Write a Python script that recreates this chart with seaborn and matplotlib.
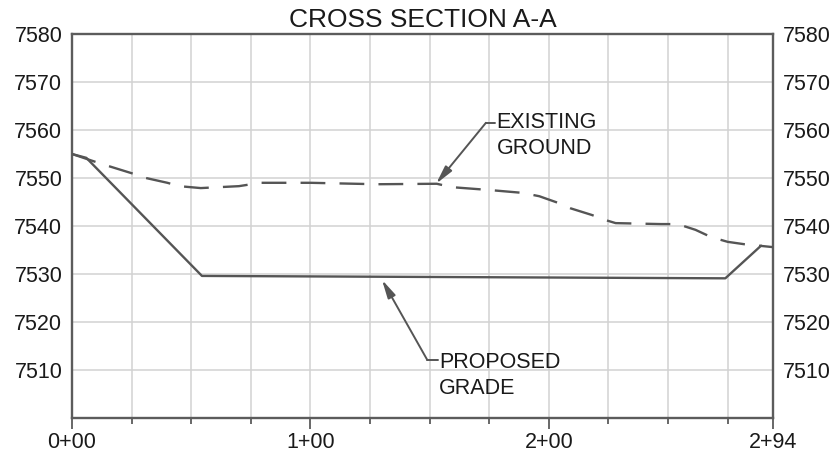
import numpy as np
import pandas as pd
import matplotlib
matplotlib.use("Agg")
import matplotlib.pyplot as plt
import seaborn as sns

# ---- data ----
existing_sta = [0, 12, 25, 31, 40, 45, 54, 70, 79, 100, 128, 153, 159, 175, 189,
                196, 204, 209, 218, 224, 228, 247, 254, 261.5, 268, 275, 282, 294]
existing_elev = [7555, 7553, 7551, 7550, 7549, 7548.3, 7547.9, 7548.3, 7549, 7549,
                 7548.7, 7548.8, 7548.1, 7547.5, 7546.9, 7546.2, 7544.8, 7543.7,
                 7542.3, 7541.2, 7540.6, 7540.4, 7540.4, 7539.2, 7537.7, 7536.7,
                 7536.2, 7535.6]
proposed_sta = [0, 6, 54.5, 274, 289]
proposed_elev = [7555, 7554.2, 7529.6, 7529.1, 7535.9]

station_ticks = [0, 100, 200, 294]
station_labels = ["0+00", "1+00", "2+00", "2+94"]
minor_station_ticks = [25, 50, 75, 125, 150, 175, 225, 250, 275]
elev_ticks = [7510, 7520, 7530, 7540, 7550, 7560, 7570, 7580]
title = "CROSS SECTION A-A"
label_existing = "EXISTING\nGROUND"
label_proposed = "PROPOSED\nGRADE"

df = pd.concat([
    pd.DataFrame({"station": existing_sta, "elev": existing_elev, "surface": "EXISTING GROUND"}),
    pd.DataFrame({"station": proposed_sta, "elev": proposed_elev, "surface": "PROPOSED GRADE"}),
], ignore_index=True)

# ---- style ----
sns.set_style("white")
plt.rcParams["font.family"] = ["Liberation Sans", "DejaVu Sans"]
line_col = "#555555"
grid_col = "#d2d2d2"
spine_col = "#5c5c5c"
text_col = "#1a1a1a"

fig = plt.figure(figsize=(8.35, 4.55), dpi=100)
ax = fig.add_axes([72 / 835, 1 - 418 / 455, (773 - 72) / 835, (418 - 34) / 455])

sns.lineplot(data=df, x="station", y="elev", hue="surface", style="surface",
             palette={"EXISTING GROUND": line_col, "PROPOSED GRADE": line_col},
             dashes={"EXISTING GROUND": (10.5, 6), "PROPOSED GRADE": ""},
             linewidth=1.7, sort=False, estimator=None, legend=False, ax=ax, zorder=3)

ax.set_xlim(0, 294)
ax.set_ylim(7500, 7580)

ax.set_xticks(station_ticks)
ax.set_xticklabels(station_labels)
ax.set_xticks(minor_station_ticks, minor=True)
ax.set_yticks(elev_ticks)
ax.set_yticklabels([str(v) for v in elev_ticks])

ax.grid(True, which="both", axis="x", color=grid_col, linewidth=1.1, zorder=0)
ax.grid(True, which="major", axis="y", color=grid_col, linewidth=1.1, zorder=0)

ax.tick_params(axis="x", which="major", length=8, width=1.3, color=spine_col,
               labelsize=15.5, labelcolor=text_col, pad=2, direction="out", bottom=True)
ax.tick_params(axis="x", which="minor", length=4, width=1.3, color=spine_col,
               direction="out", bottom=True)
ax.tick_params(axis="y", which="both", length=0, labelsize=15.5, labelcolor=text_col,
               pad=7, left=True, right=True, labelleft=True, labelright=True)

for s in ax.spines.values():
    s.set_visible(True)
    s.set_color(spine_col)
    s.set_linewidth(1.7)

ax.set_xlabel("")
ax.set_ylabel("")
ax.set_title(title, fontsize=19, color=text_col, pad=5)

# ---- annotations ----
arrow = dict(arrowstyle="-|>,head_length=1.1,head_width=0.25", color=line_col,
             lw=1.4, shrinkA=0, shrinkB=0, mutation_scale=10)
ax.annotate("", xy=(152.7, 7548.8), xytext=(173.6, 7561.5), arrowprops=arrow, zorder=4)
ax.plot([173.6, 177.5], [7561.5, 7561.5], color=line_col, lw=1.4, zorder=4)
ax.text(178, 7558.9, label_existing, fontsize=15.5, color=text_col,
        ha="left", va="center", linespacing=1.3, zorder=5)

ax.annotate("", xy=(130, 7528.8), xytext=(149, 7512.1), arrowprops=arrow, zorder=4)
ax.plot([149, 153.5], [7512.1, 7512.1], color=line_col, lw=1.4, zorder=4)
ax.text(154, 7508.9, label_proposed, fontsize=15.5, color=text_col,
        ha="left", va="center", linespacing=1.3, zorder=5)

fig.savefig("out.png", dpi=100, facecolor="white")
